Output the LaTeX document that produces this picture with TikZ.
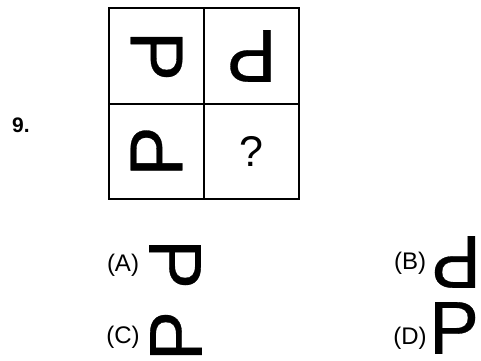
\documentclass[tikz,border=0pt]{standalone}
\usepackage{fontspec}
\setmainfont{Liberation Sans}
\newfontfamily\glyphfont[FakeBold=0.4]{Liberation Sans}
\tikzset{
    cell/.style = {
        draw,
        line width=1.6pt,
        minimum width=95pt,
        minimum height=95.5pt,
        inner sep=0,
    },
    letter/.style={
        inner sep=0,
        outer sep=0,
        font=\glyphfont\fontsize{75}{75}\selectfont,
    },
    query/.style={
        inner sep=0,
        font=\fontsize{43}{43}\selectfont,
    },
    number/.style={
        inner sep=0,
        font=\bfseries\fontsize{21}{21}\selectfont,
    },
    choice/.style={
        inner sep=0,
        font=\fontsize{24}{24}\selectfont,
    },
}

\begin{document}
\begin{tikzpicture}[x=1pt, y=-1pt]
    \useasboundingbox (0,0) rectangle (481,360);

    % question number
    \node[number] (num) at (21,125) {9.};

    % grid of cells
    \foreach \r/\c in {1/1,1/2,2/1,2/2} {
        \node[cell] (cell-\r-\c) at ({156.5+95*(\c-1)}, {56+95.5*(\r-1)}) {};
    }

    % figures in the cells
    \node[letter, rotate=-90] (fig-1-1) at (cell-1-1) {P};
    \node[letter, rotate=180] (fig-1-2) at (cell-1-2) {P};
    \node[letter, rotate=90] (fig-2-1) at (cell-2-1) {P};
    \node[query] (fig-2-2) at (cell-2-2) {?};

    % answer choices
    \foreach \a/\x/\y/\gx/\gy/\ang in {
        A/123/265/175/264/-90,
        B/410/263/456/262/180,
        C/123/337/176/336/90,
        D/410/338/454/328/0
    } {
        \node[choice] (label-\a) at (\x,\y) {(\a)};
        \node[letter, rotate=\ang] (opt-\a) at (\gx,\gy) {P};
    }

\end{tikzpicture}
\end{document}
